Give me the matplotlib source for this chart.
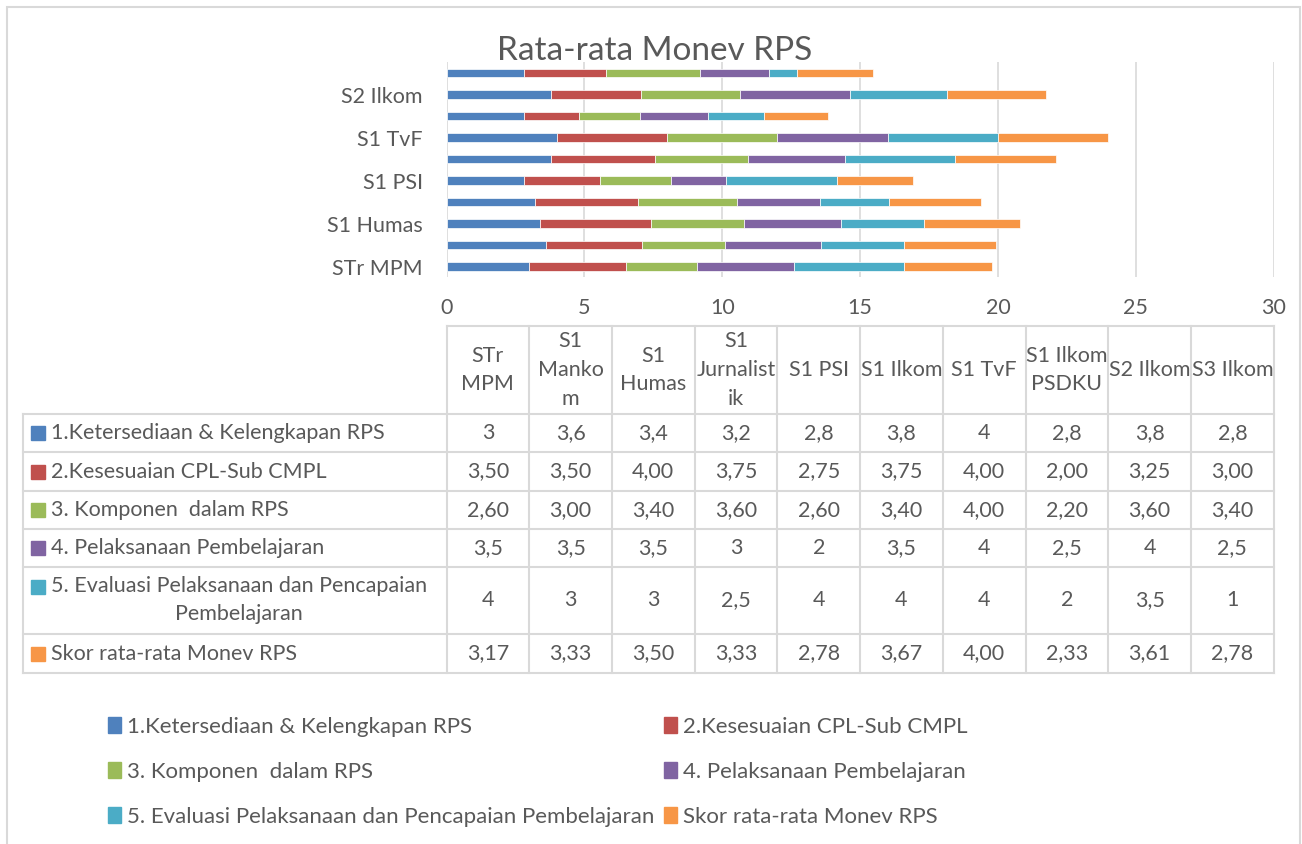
import numpy as np
import matplotlib.pyplot as plt
from matplotlib.lines import Line2D
from matplotlib.patches import Rectangle, Patch

plt.rcParams['font.family'] = ['Lato', 'DejaVu Sans']
plt.rcParams['text.color'] = '#595959'

W, H = 1302, 844
abu = '#595959'
garis = '#D9D9D9'

# data
kategori = ['STr MPM', 'S1 Mankom', 'S1 Humas', 'S1 Jurnalistik', 'S1 PSI',
            'S1 Ilkom', 'S1 TvF', 'S1 Ilkom PSDKU', 'S2 Ilkom', 'S3 Ilkom']
kolom_tabel = ['STr\nMPM', 'S1\nManko\nm', 'S1\nHumas', 'S1\nJurnalist\nik', 'S1 PSI',
               'S1 Ilkom', 'S1 TvF', 'S1 Ilkom\nPSDKU', 'S2 Ilkom', 'S3 Ilkom']
seri = ['1.Ketersediaan & Kelengkapan RPS', '2.Kesesuaian CPL-Sub CMPL',
        '3. Komponen  dalam RPS', '4. Pelaksanaan Pembelajaran',
        '5. Evaluasi Pelaksanaan dan Pencapaian Pembelajaran', 'Skor rata-rata Monev RPS']
seri_tabel = seri[:4] + ['5. Evaluasi Pelaksanaan dan Pencapaian\nPembelajaran', seri[5]]

ketersediaan = [3, 3.6, 3.4, 3.2, 2.8, 3.8, 4, 2.8, 3.8, 2.8]
kesesuaian = [3.50, 3.50, 4.00, 3.75, 2.75, 3.75, 4.00, 2.00, 3.25, 3.00]
komponen = [2.60, 3.00, 3.40, 3.60, 2.60, 3.40, 4.00, 2.20, 3.60, 3.40]
pelaksanaan = [3.5, 3.5, 3.5, 3, 2, 3.5, 4, 2.5, 4, 2.5]
evaluasi = [4, 3, 3, 2.5, 4, 4, 4, 2, 3.5, 1]
skor = [3.17, 3.33, 3.50, 3.33, 2.78, 3.67, 4.00, 2.33, 3.61, 2.78]
nilai = [ketersediaan, kesesuaian, komponen, pelaksanaan, evaluasi, skor]
format_baris = ['g', '.2f', '.2f', 'g', 'g', '.2f']

warna = ['#4F81BD', '#C0504D', '#9BBB59', '#8064A2', '#4BACC6', '#F79646']

fs = 15.5


def fx(x):
    return x / W


def fy(y):
    return 1 - y / H


fig = plt.figure(figsize=(W / 100, H / 100), dpi=100)

# bingkai luar
fig.add_artist(Rectangle((fx(7), fy(850)), fx(1300) - fx(7), fy(7) - fy(850),
                         transform=fig.transFigure, fill=False, edgecolor=garis, lw=1.5))

# grafik batang bertumpuk
x0, x1 = 446.5, 1273.7
ax = fig.add_axes([fx(x0), fy(277.4), fx(x1) - fx(x0), fy(62.3) - fy(277.4)])
y = np.arange(len(kategori))
kiri = np.zeros(len(kategori))
for i in range(len(seri)):
    ax.barh(y, nilai[i], left=kiri, height=0.4, color=warna[i],
            edgecolor='white', linewidth=0.5, zorder=3)
    kiri += np.array(nilai[i])

ax.set_xlim(0, 30)
ax.set_ylim(-0.5, 9.5)
ax.set_xticks(range(0, 31, 5))
ax.set_yticks(y[::2])
ax.set_yticklabels(kategori[::2])
ax.tick_params(axis='both', length=0, labelsize=fs, labelcolor=abu)
ax.tick_params(axis='x', pad=15)
ax.tick_params(axis='y', pad=17)
ax.grid(axis='x', color=garis, lw=1.2, zorder=0)
for s in ax.spines.values():
    s.set_visible(False)

fig.text(fx(655), fy(51), 'Rata-rata Monev RPS', ha='center', va='center',
         fontsize=24, color=abu)

# tabel data
batas_x = np.linspace(x0, x1, len(kategori) + 1)
batas_y = [326, 414, 452, 491, 529, 567, 634, 673]
kiri_tabel = 23


def garis_fig(xs, ys):
    fig.add_artist(Line2D([fx(v) for v in xs], [fy(v) for v in ys],
                          transform=fig.transFigure, color=garis, lw=1.5))


garis_fig([x0, x1], [326, 326])
for bx in batas_x:
    garis_fig([bx, bx], [326, 673])
for by in batas_y[1:]:
    garis_fig([kiri_tabel, x1], [by, by])
garis_fig([kiri_tabel, kiri_tabel], [414, 673])

for j, k in enumerate(kolom_tabel):
    cx = (batas_x[j] + batas_x[j + 1]) / 2
    fig.text(fx(cx), fy((326 + 414) / 2), k, ha='center', va='center',
             fontsize=fs, color=abu, linespacing=1.55, multialignment='center')

for i in range(len(seri)):
    cy = (batas_y[i + 1] + batas_y[i + 2]) / 2
    ky = cy if i != 4 else cy - 14
    fig.add_artist(Rectangle((fx(31), fy(ky + 7)), fx(14), 14 / H,
                             transform=fig.transFigure, color=warna[i]))
    fig.text(fx(51), fy(cy), seri_tabel[i], ha='left', va='center', fontsize=fs,
             color=abu, multialignment='center', linespacing=1.5)
    for j in range(len(kategori)):
        cx = (batas_x[j] + batas_x[j + 1]) / 2
        teks = format(nilai[i][j], format_baris[i]).replace('.', ',')
        fig.text(fx(cx), fy(cy), teks, ha='center', va='center', fontsize=fs, color=abu)

# legenda
tangan = [Patch(color=c) for c in warna]
urutan = [0, 2, 4, 1, 3, 5]
fig.legend([tangan[i] for i in urutan], [seri[i] for i in urutan], ncol=2,
           loc='upper left', bbox_to_anchor=(fx(88), fy(697)), frameon=False,
           fontsize=16, handlelength=0.6, handleheight=0.7, handletextpad=0.27,
           columnspacing=0.4, labelspacing=1.12, labelcolor=abu)

fig.savefig('out.png', dpi=100)
